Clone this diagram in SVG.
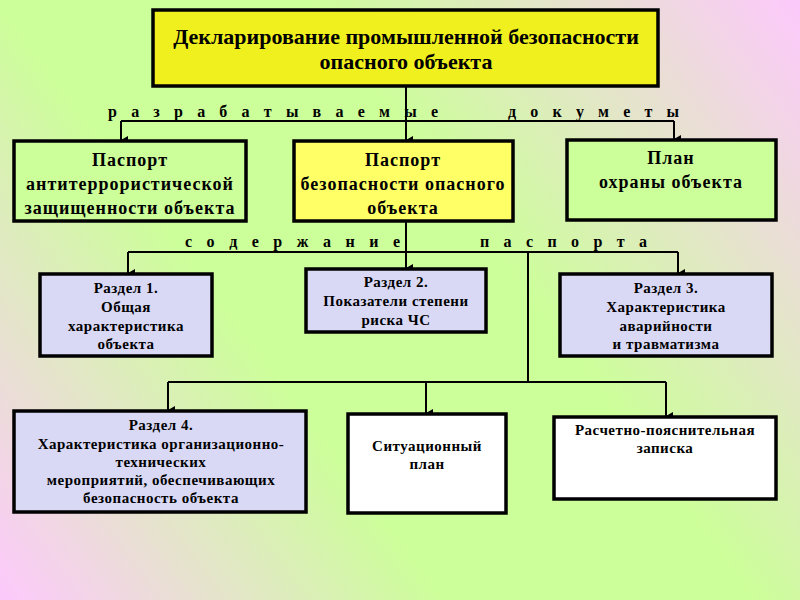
<svg xmlns="http://www.w3.org/2000/svg" width="800" height="600" viewBox="0 0 800 600">
<defs>
<linearGradient id="bg" gradientUnits="userSpaceOnUse" x1="0" y1="600" x2="800" y2="0">
<stop offset="0" stop-color="#fdc9fc"/>
<stop offset="0.36" stop-color="#ccff99"/>
<stop offset="0.6" stop-color="#ccff99"/>
<stop offset="1" stop-color="#fdc9fc"/>
</linearGradient>
<marker id="arr" markerUnits="userSpaceOnUse" markerWidth="10" markerHeight="10" viewBox="0 0 10 10" refX="5" refY="10" orient="auto-start-reverse">
<path d="M1,3 L9,3 L5,10 Z" fill="#000"/>
</marker>
<style>
.box{stroke:#000;stroke-width:3.5}
.yel{fill:#f0f01e}
.yel2{fill:#ffff66}
.grn{fill:#ccff99}
.lav{fill:#d9d9f6}
.wht{fill:#ffffff}
text{font-family:"Liberation Serif","Times New Roman",serif;font-weight:bold;fill:#000;text-anchor:middle}
.t1{font-size:22px}
.t2{font-size:18px;letter-spacing:1px}
.t3{font-size:15px;letter-spacing:0.5px}
.sp{font-size:16px;text-anchor:start}
.ln{fill:none;stroke:#000;stroke-width:2}
.la{fill:none;stroke:#000;stroke-width:2;marker-end:url(#arr)}
</style>
</defs>
<rect x="0" y="0" width="800" height="600" fill="url(#bg)"/>

<g id="connectors">
<path class="la" d="M406,86 V140"/>
<path class="ln" d="M121,121 H674"/>
<path class="la" d="M121,121 V140"/>
<path class="la" d="M674,121 V139"/>
<path class="la" d="M406,222 V268"/>
<path class="ln" d="M128,252 H678"/>
<path class="la" d="M128,252 V273"/>
<path class="la" d="M678,252 V273"/>
<path class="ln" d="M528,252 V382"/>
<path class="ln" d="M168,382 H666"/>
<path class="la" d="M168,382 V410"/>
<path class="la" d="M426,382 V413"/>
<path class="la" d="M666,382 V416"/>
</g>

<g id="labels">
<text class="sp" x="108" y="117" textLength="330" lengthAdjust="spacing">р а з р а б а т ы в а е м ы е</text>
<text class="sp" x="508" y="117" textLength="171" lengthAdjust="spacing">д о к у м е т ы</text>
<text class="sp" x="185" y="247" textLength="215" lengthAdjust="spacing">с о д е р ж а н и е</text>
<text class="sp" x="480" y="247" textLength="167" lengthAdjust="spacing">п а с п о р т а</text>
</g>

<g id="title">
<rect class="box yel" x="153" y="10" width="505" height="76" stroke-width="4"/>
<text class="t1" x="406" y="44">Декларирование промышленной безопасности</text>
<text class="t1" x="406" y="69">опасного объекта</text>
</g>

<g id="passport-at">
<rect class="box grn" x="14" y="141" width="232" height="80"/>
<text class="t2" x="130" y="166">Паспорт</text>
<text class="t2" x="130" y="190">антитеррористической</text>
<text class="t2" x="130" y="214">защищенности объекта</text>
</g>

<g id="passport-safety">
<rect class="box yel2" x="294" y="141" width="219" height="80"/>
<text class="t2" x="403" y="166">Паспорт</text>
<text class="t2" x="403" y="190">безопасности опасного</text>
<text class="t2" x="403" y="214">объекта</text>
</g>

<g id="guard-plan">
<rect class="box grn" x="567" y="140" width="209" height="80"/>
<text class="t2" x="671" y="164">План</text>
<text class="t2" x="671" y="188">охраны объекта</text>
</g>

<g id="section1">
<rect class="box lav" x="40" y="274" width="172" height="82"/>
<text class="t3" x="126" y="293">Раздел 1.</text>
<text class="t3" x="126" y="312">Общая</text>
<text class="t3" x="126" y="331">характеристика</text>
<text class="t3" x="126" y="349">объекта</text>
</g>

<g id="section2">
<rect class="box lav" x="306" y="269" width="180" height="63"/>
<text class="t3" x="396" y="287">Раздел 2.</text>
<text class="t3" x="396" y="306">Показатели степени</text>
<text class="t3" x="396" y="325">риска ЧС</text>
</g>

<g id="section3">
<rect class="box lav" x="560" y="274" width="212" height="82"/>
<text class="t3" x="666" y="293">Раздел 3.</text>
<text class="t3" x="666" y="312">Характеристика</text>
<text class="t3" x="666" y="331">аварийности</text>
<text class="t3" x="666" y="349">и травматизма</text>
</g>

<g id="section4">
<rect class="box lav" x="14" y="411" width="292" height="101"/>
<text class="t3" x="161" y="430">Раздел 4.</text>
<text class="t3" x="161" y="449">Характеристика организационно-</text>
<text class="t3" x="161" y="467">технических</text>
<text class="t3" x="161" y="485">мероприятий, обеспечивающих</text>
<text class="t3" x="161" y="503">безопасность объекта</text>
</g>

<g id="situation-plan">
<rect class="box wht" x="348" y="414" width="158" height="99"/>
<text class="t3" x="427" y="451">Ситуационный</text>
<text class="t3" x="427" y="469">план</text>
</g>

<g id="explanatory-note">
<rect class="box wht" x="554" y="417" width="222" height="82"/>
<text class="t3" x="665" y="435">Расчетно-пояснительная</text>
<text class="t3" x="665" y="453">записка</text>
</g>
</svg>
